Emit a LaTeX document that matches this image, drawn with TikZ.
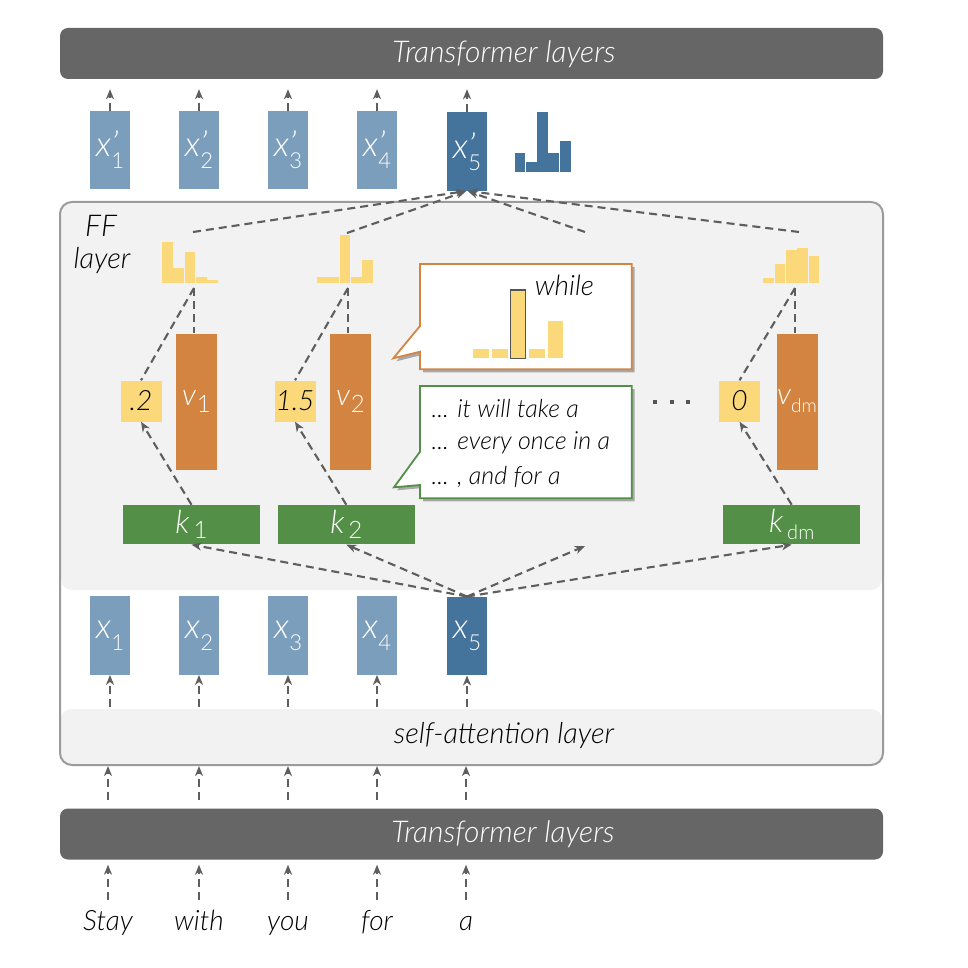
\documentclass[tikz,border=0pt]{standalone}
\usepackage{fontspec}
\IfFontExistsTF{Lato Light Italic}
  {\setmainfont{Lato Light}[ItalicFont={Lato Light Italic}]}
  {\setmainfont{Lato}}
\usetikzlibrary{arrows.meta,shadows}
\definecolor{bardark}{HTML}{666666}
\definecolor{xlight}{HTML}{7B9EBC}
\definecolor{xdark}{HTML}{44739C}
\definecolor{vorange}{HTML}{D48441}
\definecolor{kgreen}{HTML}{538F46}
\definecolor{nyellow}{HTML}{FBD97B}
\definecolor{ffgray}{HTML}{F2F2F2}
\definecolor{bordergray}{HTML}{9B9B9B}
\definecolor{arrgray}{HTML}{5E5E5E}
\definecolor{outgray}{HTML}{555555}
\newcommand{\fsz}[1]{\fontsize{#1}{#1}\selectfont}
\newcommand{\xpl}[1]{x\rlap{’}\raisebox{-12pt}{\upshape\fsz{22}#1}}
\newcommand{\xl}[1]{x\raisebox{-12pt}{\upshape\fsz{22}#1}}
\newcommand{\vl}[1]{v\hspace{1pt}\raisebox{-7pt}{\upshape\fsz{24}#1}}
\newcommand{\vdl}{v\raisebox{-8pt}{\upshape\fsz{19}dm}}
\newcommand{\kl}[1]{k\hspace{4pt}\raisebox{-5pt}{\upshape\fsz{24}#1}}
\newcommand{\kdl}{k\hspace{4pt}\raisebox{-7pt}{\upshape\fsz{20}dm}}
\newcommand{\myb}[4]{\fill[#1] (#2,#3) rectangle ++(10.8,#4-#3);}
\tikzset{
  arr/.style={draw=arrgray, line width=2.1pt, dash pattern=on 8pt off 5pt,
    -{Stealth[length=10pt,width=8pt,inset=3pt]}},
  dline/.style={draw=arrgray, line width=2.1pt, dash pattern=on 8pt off 5pt},
  darkbar/.style={fill=bardark, rounded corners=8pt, minimum width=823pt,
    minimum height=51pt, inner sep=0pt},
  bartext/.style={text=white, font=\fsz{30}\itshape, inner sep=0pt},
  xbox/.style={fill=xlight, minimum width=40pt, minimum height=78.5pt,
    inner sep=0pt, text=white, font=\fsz{35}\itshape},
  xdbox/.style={xbox, fill=xdark},
  vbox/.style={fill=vorange, minimum width=41pt, minimum height=136pt,
    inner sep=0pt, text=white, font=\fsz{30}\itshape},
  nbox/.style={fill=nyellow, minimum width=41pt, minimum height=41pt,
    inner sep=0pt, text=black, font=\fsz{28}\itshape},
  kbox/.style={fill=kgreen, minimum width=137pt, minimum height=39.5pt,
    inner sep=0pt, text=white, font=\fsz{32}\itshape},
  word/.style={font=\fsz{28}\itshape, inner sep=0pt, anchor=base},
  plain/.style={font=\fsz{29}\itshape, inner sep=0pt},
  ctext/.style={font=\fsz{25}\itshape, inner sep=0pt, anchor=west},
  callshadow/.style={drop shadow={shadow xshift=3pt, shadow yshift=-3pt,
    opacity=0.3, fill=black}},
}
\begin{document}
\begin{tikzpicture}[x=1pt,y=-1pt]
\useasboundingbox (0,0) rectangle (968,968);

% --- FF layer and self-attention backgrounds
\fill[ffgray, rounded corners=11pt] (61,203) rectangle (882,590);
\fill[ffgray, rounded corners=10pt] (61,709) rectangle (882,764);
\node[draw=bordergray, line width=2pt, rounded corners=12pt, minimum width=823pt,
  minimum height=563pt, inner sep=0pt] (outer) at (471.5,483.5) {};

% --- top transformer bar
\node[darkbar] (top) at (471.5,53.5) {};
\node[bartext] (toptxt) at (504,54) {Transformer layers};

% --- bottom transformer bar
\node[darkbar] (bot) at (471.5,834) {};
\node[bartext] (bottxt) at (503,834) {Transformer layers};

% --- self-attention layer
\node[minimum width=821pt, minimum height=55pt, inner sep=0pt] (sa) at (471.5,736.5) {};
\node[plain] (satxt) at (504,735) {self-attention layer};

% --- FF label
\node[plain, font=\fsz{30}\itshape] (fflbl) at (101,226) {FF};
\node[plain, font=\fsz{29}\itshape] (fflbl2) at (102,261) {layer};

% --- x' boxes
\node[xbox] (xp1) at (110,150) {\xpl{1}};
\node[xbox] (xp2) at (199,150) {\xpl{2}};
\node[xbox] (xp3) at (288,150) {\xpl{3}};
\node[xbox] (xp4) at (377,150) {\xpl{4}};
\node[xdbox] (xp5) at (467,151.5) {\xpl{5}};
\foreach \n in {xp1,xp2,xp3,xp4,xp5}
  \draw[arr, shorten >=10pt] (\n.north) -- (\n.north |- top.south);

% blue histogram next to x'5
\myb{xdark}{514.5}{152.7}{172.3}
\myb{xdark}{525.8}{161.7}{172.3}
\myb{xdark}{537.1}{111.7}{172.3}
\myb{xdark}{548.4}{152.7}{172.3}
\myb{xdark}{559.7}{140.7}{172.3}

% --- yellow histograms
\myb{nyellow}{162}{242}{283}
\myb{nyellow}{173.3}{268}{283}
\myb{nyellow}{184.6}{252}{283}
\myb{nyellow}{195.9}{277}{283}
\myb{nyellow}{207.2}{280}{283}

\myb{nyellow}{317}{277}{283}
\myb{nyellow}{328.3}{277}{283}
\myb{nyellow}{339.6}{235}{283}
\myb{nyellow}{350.9}{277}{283}
\myb{nyellow}{362.2}{260}{283}

\myb{nyellow}{763.3}{277.7}{283}
\myb{nyellow}{774.6}{264}{283}
\myb{nyellow}{785.9}{250}{283}
\myb{nyellow}{797.2}{248.3}{283}
\myb{nyellow}{808.5}{255.7}{283}

\coordinate (h1t) at (193,232);
\coordinate (h2t) at (347,233);
\coordinate (hmt) at (585,232);
\coordinate (hdt) at (799,232);
\coordinate (h1b) at (194,288);
\coordinate (h2b) at (348,288);
\coordinate (hdb) at (795,288);

\foreach \c in {h1t,h2t,hmt,hdt}
  \draw[arr, shorten >=1pt] (\c) -- (xp5.south);

% --- value, weight and key boxes
\node[vbox] (v1) at (196.5,401.5) {\vl{1}};
\node[vbox] (v2) at (350.5,401.5) {\vl{2}};
\node[vbox] (vd) at (797,401.5) {\vdl};

\node[nbox] (n1) at (141,401) {.2};
\node[nbox] (n2) at (295,401) {1.5};
\node[nbox] (nd) at (739.5,401) {0};

\node[kbox] (k1) at (191.5,524.7) {\kl{1}};
\node[kbox] (k2) at (346.3,524.7) {\kl{2}};
\node[kbox] (kd) at (791.7,524.7) {\kdl};

\draw[dline] (h1b) -- (h1b |- v1.north);
\draw[dline] (h1b) -- (n1.north);
\draw[dline] (h2b) -- (h2b |- v2.north);
\draw[dline] (h2b) -- (n2.north);
\draw[dline] (hdb) -- (hdb |- vd.north);
\draw[dline] (hdb) -- (nd.north);

\draw[arr] (k1.north) -- (n1.south);
\draw[arr] (k2.north) -- (n2.south);
\draw[arr] (kd.north) -- (nd.south);

% dots
\foreach \dx in {653,669.7,686.3}
  \fill[outgray] (\dx,400) rectangle ++(4,4);

% --- x boxes
\node[xbox] (x1) at (110,635.5) {\xl{1}};
\node[xbox] (x2) at (199,635.5) {\xl{2}};
\node[xbox] (x3) at (288,635.5) {\xl{3}};
\node[xbox] (x4) at (377,635.5) {\xl{4}};
\node[xdbox] (x5) at (467,636) {\xl{5}};

\coordinate (free) at (585,546);
\draw[arr] (x5.north) -- (k1.south);
\draw[arr] (x5.north) -- (k2.south);
\draw[arr] (x5.north) -- (free);
\draw[arr] (x5.north) -- (kd.south);

\foreach \n in {x1,x2,x3,x4,x5}
  \draw[arr, shorten <=2pt] (\n.south |- sa.north) -- (\n.south);

% --- words
\node[word] (w1) at (108,930) {Stay};
\node[word] (w2) at (199,930) {with};
\node[word] (w3) at (288,930) {you};
\node[word] (w4) at (377,930) {for};
\node[word] (w5) at (466,930) {a};
\foreach \w in {w1,w2,w3,w4,w5}
  \draw[arr, shorten >=5pt] (\w.north |- 0,900) -- (\w.north |- bot.south);
\foreach \w in {w1,w2,w3,w4,w5}
  \draw[arr] (\w.north |- 0,800) -- (\w.north |- outer.south);

% --- callouts
\draw[vorange, line width=1.8pt, fill=white, callshadow]
  (420,264) -- (631.7,264) -- (631.7,369.3) -- (420,369.3) -- (420,351.7)
  -- (393.3,358.3) -- (420,326) -- cycle;
\fill[nyellow] (473.3,349) rectangle (489,358.3);
\fill[nyellow] (492,349) rectangle (507.7,358.3);
\draw[outgray, line width=1.5pt, fill=nyellow] (510.7,290) rectangle (525.7,358.3);
\fill[nyellow] (529,349) rectangle (544.7,358.3);
\fill[nyellow] (547.7,320.7) rectangle (563.3,358.3);
\node[plain, font=\fsz{28}\itshape] (while) at (564.5,285) {while};

\draw[kgreen, line width=1.8pt, fill=white, callshadow]
  (420,386) -- (631.7,386) -- (631.7,498.3) -- (420,498.3) -- (420,485)
  -- (394,487.3) -- (420,451.7) -- cycle;
\node[ctext] (c1) at (431.5,409) {... it will take a};
\node[ctext] (c2) at (431.5,443) {... every once in a};
\node[ctext] (c3) at (431.5,476.5) {... , and for a};

\end{tikzpicture}
\end{document}
